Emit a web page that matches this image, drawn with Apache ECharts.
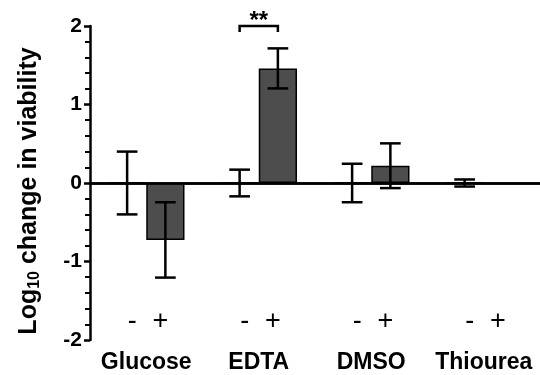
<!DOCTYPE html>
<html>
<head>
<meta charset="utf-8">
<script src="https://cdn.jsdelivr.net/npm/echarts@6/dist/echarts.min.js"></script>
<style>
  html, body { margin: 0; padding: 0; background: #fff; }
  #chart { width: 540px; height: 375px; }
</style>
</head>
<body>
<div id="chart"></div>
<script>
var categories = ['Glucose', 'EDTA', 'DMSO', 'Thiourea'];
// mean and SEM for each treatment (- / +)
var minusMean = [0, 0, 0, 0];
var minusErr = [0.40, 0.17, 0.245, 0.045];
var plusMean = [-0.725, 1.46, 0.22, null];
var plusErr = [0.48, 0.255, 0.285, null];
var treatLabels = ['-', '+'];
var significance = ['', '**', '', ''];
var sigLevel = [null, 2.0, null, null];
var labelLevel = -1.77;

var FONT = 'Liberation Sans, Arial, Helvetica, sans-serif';

var chart = echarts.init(document.getElementById('chart'));

// error bar data: [category, side, mean, err]
var errData = [];
categories.forEach(function (c, i) {
    if (minusMean[i] != null) errData.push([i, -1, minusMean[i], minusErr[i]]);
    if (plusMean[i] != null) errData.push([i, 1, plusMean[i], plusErr[i]]);
});

var annData = categories.map(function (c, i) {
    return [i, labelLevel, sigLevel[i] == null ? NaN : sigLevel[i]];
});

function renderErr(params, api) {
    var i = api.value(0), side = api.value(1), m = api.value(2), e = api.value(3);
    var band = api.size([1, 0])[0];
    var x = api.coord([i, 0])[0] + side * band * 0.17;
    var yHi = api.coord([i, m + e])[1];
    var yLo = api.coord([i, m - e])[1];
    var w = band * 0.092;
    var st = { stroke: '#000', lineWidth: 2.5 };
    return {
        type: 'group',
        children: [
            { type: 'line', shape: { x1: x, y1: yHi, x2: x, y2: yLo }, style: st },
            { type: 'line', shape: { x1: x - w, y1: yHi, x2: x + w, y2: yHi }, style: st },
            { type: 'line', shape: { x1: x - w, y1: yLo, x2: x + w, y2: yLo }, style: st }
        ]
    };
}

function renderAnn(params, api) {
    var i = api.value(0);
    var band = api.size([1, 0])[0];
    var cx = api.coord([i, 0])[0];
    var ly = api.coord([i, api.value(1)])[1];
    var kids = [
        { type: 'text', style: { text: treatLabels[0], x: cx - band * 0.125, y: ly, align: 'center', verticalAlign: 'middle', font: 'normal 27px ' + FONT, fill: '#000' } },
        { type: 'text', style: { text: treatLabels[1], x: cx + band * 0.125, y: ly, align: 'center', verticalAlign: 'middle', font: 'normal 27px ' + FONT, fill: '#000' } }
    ];
    var s = api.value(2);
    if (!isNaN(s) && significance[i]) {
        var by = api.coord([i, s])[1];
        var x1 = cx - band * 0.17, x2 = cx + band * 0.17;
        kids.push({ type: 'polyline', shape: { points: [[x1, by + 6], [x1, by], [x2, by], [x2, by + 6]] }, style: { stroke: '#000', lineWidth: 2.5, fill: null } });
        kids.push({ type: 'text', style: { text: significance[i], x: cx, y: by - 5, align: 'center', verticalAlign: 'middle', font: 'bold 24px ' + FONT, fill: '#000' } });
    }
    return { type: 'group', children: kids };
}

var option = {
    animation: false,
    grid: {
        left: 90,
        top: 26,
        bottom: 35,
        width: 458
    },
    xAxis: {
        type: 'category',
        data: categories,
        axisLine: { lineStyle: { color: '#000', width: 2.5 } },
        axisTick: { alignWithLabel: true, length: 6, lineStyle: { color: '#000', width: 2.5 } },
        axisLabel: { interval: 0, color: '#000', fontSize: 23, fontWeight: 'bold', fontFamily: FONT, margin: 11 }
    },
    yAxis: {
        type: 'value',
        min: -2,
        max: 2,
        interval: 1,
        name: '{a|Log}{s|10}{a| change in viability}',
        nameLocation: 'middle',
        nameGap: 47,
        nameTextStyle: {
            padding: [0, 16, 0, 0],
            rich: {
                a: { fontSize: 25, fontWeight: 'bold', fontFamily: FONT, color: '#000' },
                s: { fontSize: 16, fontWeight: 'bold', fontFamily: FONT, color: '#000', verticalAlign: 'bottom', padding: [12, 0, 0, 0] }
            }
        },
        axisLine: { show: true, lineStyle: { color: '#000', width: 2.5 } },
        axisTick: { show: true, length: 6, lineStyle: { color: '#000', width: 2.5 } },
        minorTick: { show: true, splitNumber: 5, length: 5, lineStyle: { color: '#000', width: 2 } },
        splitLine: { show: false },
        axisLabel: { color: '#000', fontSize: 21, fontWeight: 'bold', fontFamily: FONT, margin: 8 }
    },
    series: [
        {
            name: 'minus',
            type: 'bar',
            data: minusMean,
            barWidth: '34%',
            barGap: '0%',
            itemStyle: { color: '#4d4d4d', borderColor: '#000', borderWidth: 1.5 },
            markLine: {
                silent: true,
                symbol: 'none',
                label: { show: false },
                lineStyle: { color: '#000', width: 2.5, type: 'solid' },
                data: [{ yAxis: 0 }]
            }
        },
        {
            name: 'plus',
            type: 'bar',
            data: plusMean,
            barWidth: '34%',
            barGap: '0%',
            itemStyle: { color: '#4d4d4d', borderColor: '#000', borderWidth: 1.5 }
        },
        {
            type: 'custom',
            renderItem: renderErr,
            data: errData,
            encode: { x: 0, y: 2 },
            clip: false,
            z: 5
        },
        {
            type: 'custom',
            renderItem: renderAnn,
            data: annData,
            encode: { x: 0, y: 1 },
            clip: false,
            z: 6
        }
    ]
};

chart.setOption(option);
</script>
</body>
</html>
